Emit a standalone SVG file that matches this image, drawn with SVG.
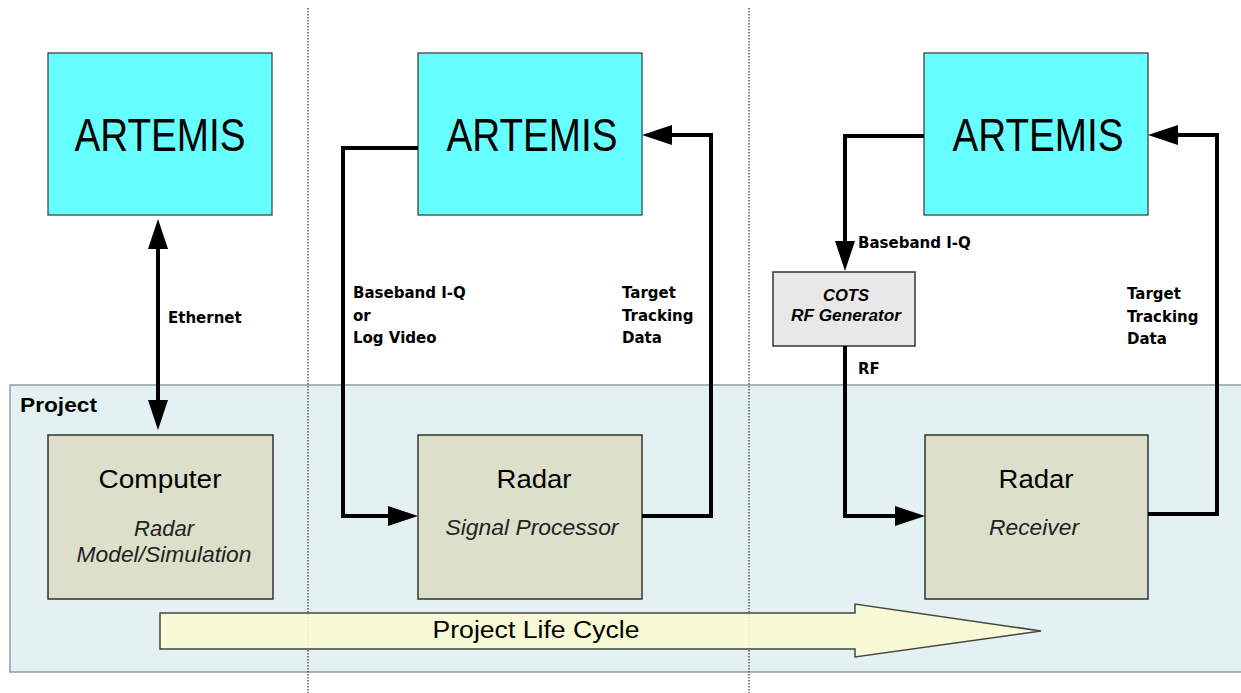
<svg xmlns="http://www.w3.org/2000/svg" width="1241" height="693" viewBox="0 0 1241 693">
<style>
.artemis{fill:#66ffff;stroke:#333;stroke-width:1.2}
.unit{fill:#dcdfca;stroke:#333;stroke-width:1.5}
.big{font-family:"Liberation Sans",Arial,sans-serif;font-size:46px;fill:#000;text-anchor:middle}
.title{font-family:"Liberation Sans",Arial,sans-serif;font-size:26px;fill:#000;text-anchor:middle}
.sub{font-family:"Liberation Sans",Arial,sans-serif;font-size:22px;font-style:italic;fill:#222;text-anchor:middle}
.lbl{font-family:"DejaVu Sans",Verdana,sans-serif;font-size:15px;font-weight:bold;fill:#000}
.conn{fill:none;stroke:#000;stroke-width:4;stroke-linejoin:miter}
.div{stroke:#333;stroke-width:1.2;stroke-dasharray:1.5,1.5}
</style>
<defs>
<marker id="ah" markerUnits="userSpaceOnUse" markerWidth="30" markerHeight="20" refX="24" refY="10" orient="auto-start-reverse" viewBox="0 0 30 20">
<path d="M0,0 L30,10 L0,20 z" fill="#000"/>
</marker>
</defs>
<rect width="1241" height="693" fill="#fff"/>

<g id="project-panel">
<rect x="10" y="385" width="1240" height="287" fill="#e3f1f3" stroke="#999" stroke-width="1.5"/>
<text x="20" y="412" font-family="'Liberation Sans',Arial,sans-serif" font-size="21" font-weight="bold" textLength="77" lengthAdjust="spacingAndGlyphs">Project</text>
</g>

<g id="dividers">
<line class="div" x1="308" y1="8" x2="308" y2="693"/>
<line class="div" x1="749" y1="8" x2="749" y2="693"/>
</g>

<g id="artemis-1">
<rect class="artemis" x="48" y="53" width="224" height="162"/>
<text class="big" x="160" y="151" textLength="171" lengthAdjust="spacingAndGlyphs">ARTEMIS</text>
</g>
<g id="artemis-2">
<rect class="artemis" x="418" y="53" width="224" height="162"/>
<text class="big" x="532" y="151" textLength="171" lengthAdjust="spacingAndGlyphs">ARTEMIS</text>
</g>
<g id="artemis-3">
<rect class="artemis" x="924" y="53" width="224" height="162"/>
<text class="big" x="1038" y="151" textLength="171" lengthAdjust="spacingAndGlyphs">ARTEMIS</text>
</g>

<g id="computer">
<rect class="unit" x="48" y="435" width="225" height="164"/>
<text class="title" x="160" y="488" textLength="123" lengthAdjust="spacingAndGlyphs">Computer</text>
<text class="sub" x="164" y="536">Radar</text>
<text class="sub" x="164" y="562" textLength="175" lengthAdjust="spacingAndGlyphs">Model/Simulation</text>
</g>

<g id="radar-sp">
<rect class="unit" x="418" y="435" width="224" height="164"/>
<text class="title" x="534" y="488" textLength="75" lengthAdjust="spacingAndGlyphs">Radar</text>
<text class="sub" x="532" y="535" textLength="173" lengthAdjust="spacingAndGlyphs">Signal Processor</text>
</g>

<g id="cots">
<rect x="773" y="272" width="142" height="74" fill="#e8e8e8" stroke="#333" stroke-width="1.5"/>
<text x="846" y="301" font-family="'Liberation Sans',Arial,sans-serif" font-size="16" font-weight="bold" font-style="italic" text-anchor="middle" textLength="46" lengthAdjust="spacingAndGlyphs">COTS</text>
<text x="846" y="321" font-family="'Liberation Sans',Arial,sans-serif" font-size="16" font-weight="bold" font-style="italic" text-anchor="middle" textLength="110" lengthAdjust="spacingAndGlyphs">RF Generator</text>
</g>

<g id="radar-rx">
<rect class="unit" x="925" y="435" width="223" height="164"/>
<text class="title" x="1036" y="488" textLength="75" lengthAdjust="spacingAndGlyphs">Radar</text>
<text class="sub" x="1034" y="535" textLength="90" lengthAdjust="spacingAndGlyphs">Receiver</text>
</g>

<g id="lifecycle">
<path d="M160,613 H855 V604 L1041,631 L855,657 V649 H160 z" fill="#fafad2" fill-opacity="0.9" stroke="#444" stroke-width="1.5"/>
<text x="536" y="638" font-family="'Liberation Sans',Arial,sans-serif" font-size="23" text-anchor="middle" textLength="207" lengthAdjust="spacingAndGlyphs">Project Life Cycle</text>
</g>

<g id="connectors">
<line class="conn" x1="158" y1="225" x2="158" y2="424" marker-start="url(#ah)" marker-end="url(#ah)"/>
<path class="conn" d="M418,148 H343 V516 H412" marker-end="url(#ah)"/>
<path class="conn" d="M642,516 H711 V135 H648" marker-end="url(#ah)"/>
<path class="conn" d="M924,136 H845 V265" marker-end="url(#ah)"/>
<path class="conn" d="M845,346 V516 H919" marker-end="url(#ah)"/>
<path class="conn" d="M1148,514 H1217 V135 H1154" marker-end="url(#ah)"/>
</g>

<g id="labels">
<text class="lbl" x="168" y="323">Ethernet</text>
<text class="lbl" x="353" y="298">Baseband I-Q</text>
<text class="lbl" x="353" y="321">or</text>
<text class="lbl" x="353" y="343">Log Video</text>
<text class="lbl" x="622" y="298">Target</text>
<text class="lbl" x="622" y="321">Tracking</text>
<text class="lbl" x="622" y="343">Data</text>
<text class="lbl" x="858" y="248">Baseband I-Q</text>
<text class="lbl" x="858" y="374">RF</text>
<text class="lbl" x="1127" y="299">Target</text>
<text class="lbl" x="1127" y="322">Tracking</text>
<text class="lbl" x="1127" y="344">Data</text>
</g>
</svg>
